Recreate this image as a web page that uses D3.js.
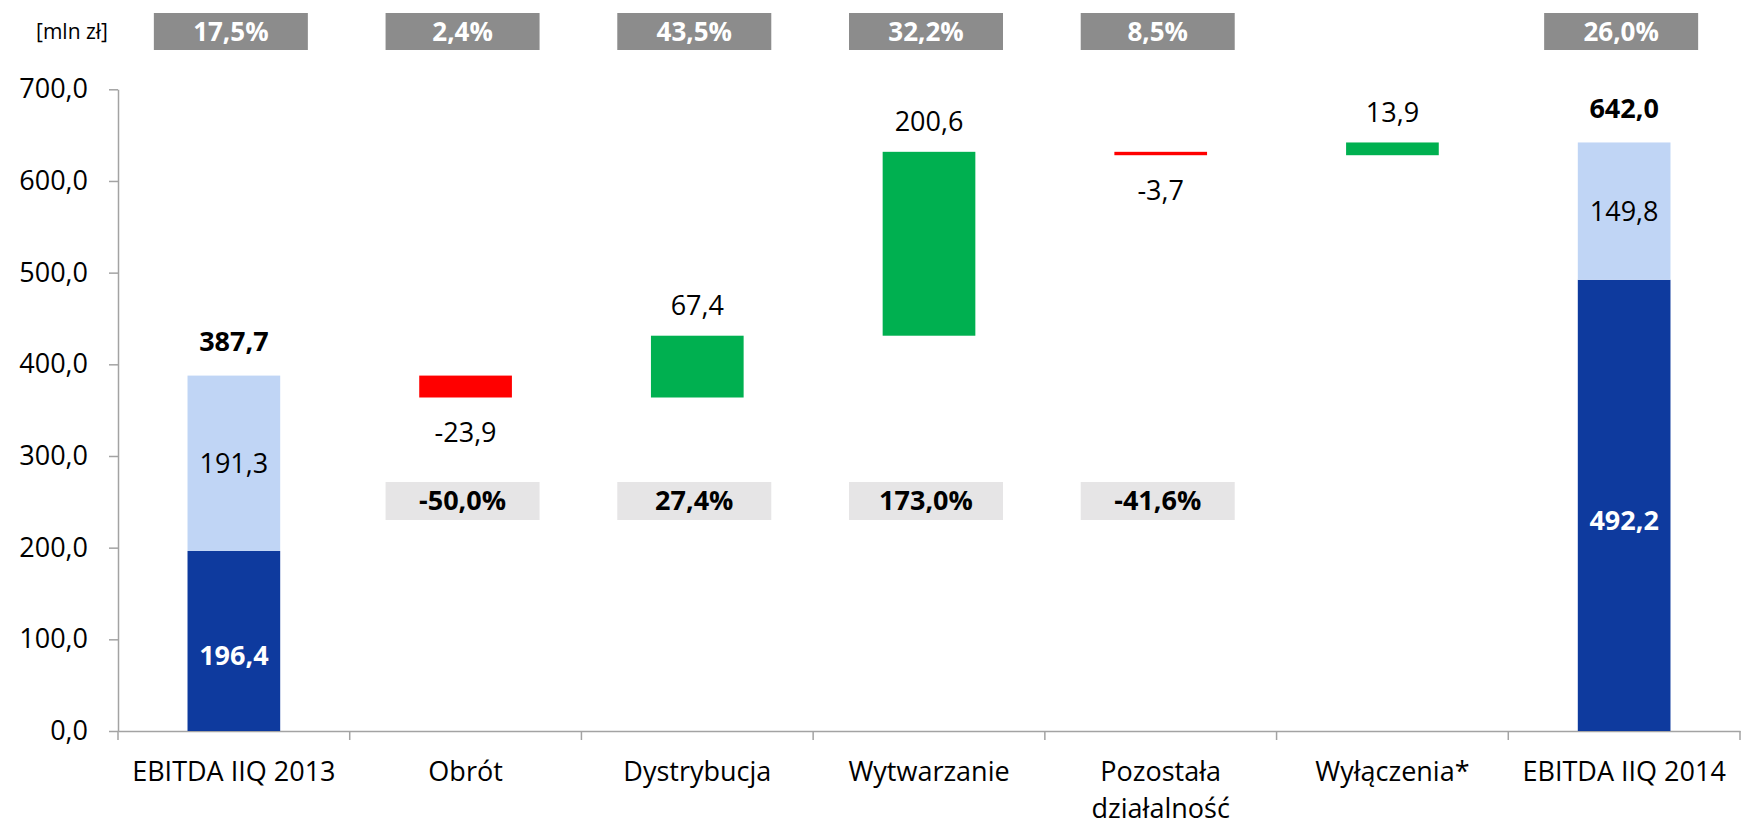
<!DOCTYPE html>
<html>
<head>
<meta charset="utf-8">
<script src="https://cdn.jsdelivr.net/npm/d3@7"></script>
<style>
  body { margin: 0; background: #fff; }
  text { font-family: "Open Sans", "Noto Sans", sans-serif; }
</style>
</head>
<body>
<svg></svg>
<script>
// kategorie na osi X
const categories = ["EBITDA IIQ 2013", "Obrót", "Dystrybucja", "Wytwarzanie", "Pozostała działalność", "Wyłączenia*", "EBITDA IIQ 2014"];
// słupki EBITDA (część ciemna i jasna)
const darkPart = [196.4, null, null, null, null, null, 492.2];
const lightPart = [191.3, null, null, null, null, null, 149.8];
// zmiany w segmentach
const deltas = [null, -23.9, 67.4, 200.6, -3.7, 13.9, null];
// procenty w szarych ramkach
const topPct = ["17,5%", "2,4%", "43,5%", "32,2%", "8,5%", null, "26,0%"];
const bottomPct = [null, "-50,0%", "27,4%", "173,0%", "-41,6%", null, null];
const yTicks = [0, 100, 200, 300, 400, 500, 600, 700];
const unitLabel = "[mln zł]";

let width = 1741;
let height = 825;

let svg = d3.select("svg")
    .attr("width", width)
    .attr("height", height);

let pl = d3.formatLocale({decimal: ",", thousands: " ", grouping: [3], currency: ["", " zł"], minus: "-"});
let fmt = pl.format(".1f");

let x = d3.scaleBand()
    .domain(categories)
    .range([118, 1740])
    .padding(0);

let y = d3.scaleLinear()
    .domain([0, 700])
    .range([731, 89.3]);

let axisColor = "#a3a3a3";
let barW = x.bandwidth() * 0.4;

// liczenie kaskady
let rows = [];
let running = 0;
categories.forEach((c, i) => {
    if (darkPart[i] != null) {
        running = darkPart[i] + lightPart[i];
        rows.push({c: c, type: "total", dark: darkPart[i], light: lightPart[i], total: running});
    } else {
        let start = running;
        running = running + deltas[i];
        rows.push({c: c, type: "delta", v: deltas[i], from: start, to: running});
    }
});

// oś Y
let gy = svg.append("g")
    .attr("transform", "translate(118,0)")
    .call(d3.axisLeft(y).tickValues(yTicks).tickFormat(fmt).tickSize(9).tickSizeOuter(0).tickPadding(21));
gy.select(".domain").attr("stroke", axisColor).attr("stroke-width", 1.5);
gy.selectAll(".tick line").attr("stroke", axisColor).attr("stroke-width", 1.5);
gy.selectAll(".tick text").attr("font-size", 27).attr("fill", "#000")
    .attr("font-family", "'Open Sans', sans-serif");

// oś X
let gx = svg.append("g")
    .attr("transform", "translate(0,731)")
    .call(d3.axisBottom(x).tickSize(0).tickSizeOuter(0).tickPadding(0));
gx.select(".domain").attr("stroke", axisColor).attr("stroke-width", 1.5);
gx.selectAll(".tick text")
    .attr("font-size", 27).attr("fill", "#000")
    .attr("font-family", "'Open Sans', sans-serif")
    .attr("dy", null)
    .attr("y", 50)
    .call(wrap, x.bandwidth() - 12);

// kreski między kategoriami
let bounds = categories.map(c => x(c)).concat([x(categories[categories.length - 1]) + x.bandwidth()]);
svg.append("g").selectAll("line")
    .data(bounds)
    .join("line")
    .attr("x1", d => d).attr("x2", d => d)
    .attr("y1", 731).attr("y2", 740)
    .attr("stroke", axisColor).attr("stroke-width", 1.5);

function wrap(sel, w) {
    sel.each(function() {
        let t = d3.select(this);
        let words = t.text().split(" ");
        let lines = [];
        let cur = [];
        t.text(null);
        let probe = t.append("tspan");
        words.forEach(wd => {
            cur.push(wd);
            probe.text(cur.join(" "));
            if (probe.node().getComputedTextLength() > w && cur.length > 1) {
                cur.pop();
                lines.push(cur.join(" "));
                cur = [wd];
            }
        });
        lines.push(cur.join(" "));
        probe.remove();
        lines.forEach((ln, k) => {
            t.append("tspan").attr("x", 0).attr("y", 50 + k * 37).text(ln);
        });
    });
}

let bars = svg.append("g");
let labels = svg.append("g");
let cx = d => x(d.c) + x.bandwidth() / 2;

rows.forEach(d => {
    let bx = cx(d) - barW / 2;
    if (d.type === "total") {
        bars.append("rect")
            .attr("x", bx).attr("width", barW)
            .attr("y", y(d.dark)).attr("height", y(0) - y(d.dark))
            .attr("fill", "#0e3a9e");
        bars.append("rect")
            .attr("x", bx).attr("width", barW)
            .attr("y", y(d.total)).attr("height", y(d.dark) - y(d.total))
            .attr("fill", "#c0d5f5");
        labels.append("text")
            .attr("x", cx(d)).attr("y", (y(0) + y(d.dark)) / 2 + 15)
            .attr("dy", "0.35em").attr("text-anchor", "middle")
            .attr("font-size", 27).attr("font-weight", "bold").attr("fill", "#fff")
            .text(fmt(d.dark));
        labels.append("text")
            .attr("x", cx(d)).attr("y", (y(d.dark) + y(d.total)) / 2)
            .attr("dy", "0.35em").attr("text-anchor", "middle")
            .attr("font-size", 27).attr("fill", "#000")
            .text(fmt(d.light));
        labels.append("text")
            .attr("x", cx(d)).attr("y", y(d.total) - 34)
            .attr("dy", "0.35em").attr("text-anchor", "middle")
            .attr("font-size", 27).attr("font-weight", "bold").attr("fill", "#000")
            .text(fmt(d.total));
    } else {
        let top = Math.max(d.from, d.to);
        let bot = Math.min(d.from, d.to);
        bars.append("rect")
            .attr("x", bx).attr("width", barW)
            .attr("y", y(top)).attr("height", y(bot) - y(top))
            .attr("fill", d.v < 0 ? "#ff0000" : "#00b050");
        labels.append("text")
            .attr("x", cx(d))
            .attr("y", d.v < 0 ? y(bot) + 35 : y(top) - 30)
            .attr("dy", "0.35em").attr("text-anchor", "middle")
            .attr("font-size", 27).attr("fill", "#000")
            .text(fmt(d.v));
    }
});

// szare ramki z procentami
let boxW = 154;
let boxes = svg.append("g");
categories.forEach((c, i) => {
    let mx = x(c) + x.bandwidth() / 2 - 3;
    if (topPct[i]) {
        boxes.append("rect")
            .attr("x", mx - boxW / 2).attr("y", 13)
            .attr("width", boxW).attr("height", 37)
            .attr("fill", "#8c8c8c");
        boxes.append("text")
            .attr("x", mx).attr("y", 31.5).attr("dy", "0.35em")
            .attr("text-anchor", "middle")
            .attr("font-size", 26).attr("font-weight", "bold").attr("fill", "#fff")
            .text(topPct[i]);
    }
    if (bottomPct[i]) {
        boxes.append("rect")
            .attr("x", mx - boxW / 2).attr("y", 482)
            .attr("width", boxW).attr("height", 38)
            .attr("fill", "#e6e5e6");
        boxes.append("text")
            .attr("x", mx).attr("y", 501).attr("dy", "0.35em")
            .attr("text-anchor", "middle")
            .attr("font-size", 27).attr("font-weight", "bold").attr("fill", "#000")
            .text(bottomPct[i]);
    }
});

svg.append("text")
    .attr("x", 72).attr("y", 32).attr("dy", "0.35em")
    .attr("text-anchor", "middle")
    .attr("font-size", 21).attr("fill", "#000")
    .text(unitLabel);
</script>
</body>
</html>
